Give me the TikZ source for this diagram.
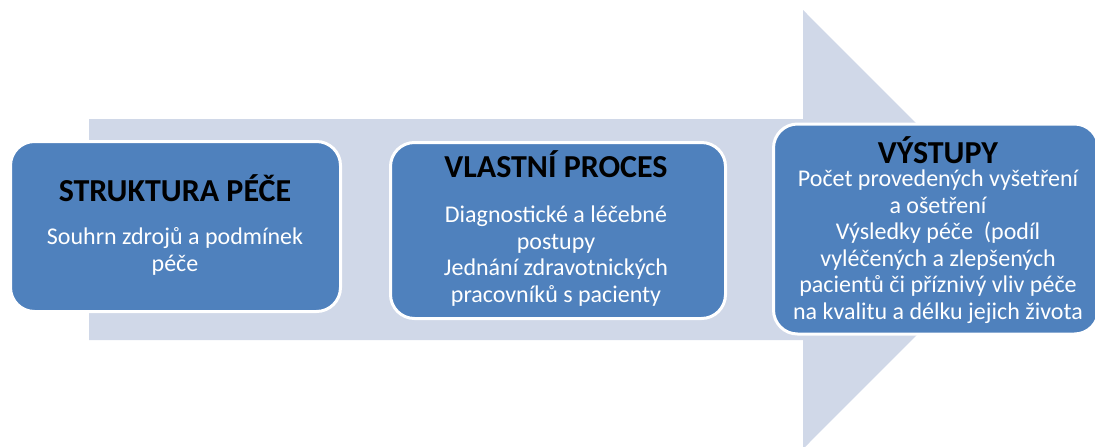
\documentclass[tikz,border=0pt]{standalone}
\usepackage{fontspec}
\setmainfont{Carlito}
\definecolor{arrowfill}{HTML}{D0D8E8}
\definecolor{boxfill}{HTML}{4F81BD}
\begin{document}
\begin{tikzpicture}[x=1pt,y=-1pt,
  stagebox/.style={draw=white,line width=3pt,fill=boxfill,rounded corners=24pt,
    inner sep=0pt,minimum width=#1},
  headtext/.style={anchor=base,text=black,font=\fontsize{32}{36}\selectfont\bfseries},
  bodytext/.style={anchor=base,text=white,align=center,font=\fontsize{24}{26.5}\selectfont}]
\useasboundingbox (0,0) rectangle (1095,447);
% background process arrow
\fill[arrowfill] (89,119) -- (803,119) -- (803,10) -- (1022,229.5) -- (803,449)
  -- (803,340) -- (89,340) -- cycle;
% stage boxes
\node[stagebox=330pt,minimum height=170pt] (s1) at (175.5,226.5) {};
\node[stagebox=335pt,minimum height=176pt] (s2) at (558,230.5) {};
\node[stagebox=325pt,minimum height=210pt] (s3) at (936,229) {};
% texts (body nodes are placed by the baseline of their last line)
\node[headtext] (h1) at (175,201) {STRUKTURA PÉČE};
\node[bodytext] (b1) at (175,271) {Souhrn zdrojů a podmínek\\péče};
\node[headtext] (h2) at (556,177) {VLASTNÍ PROCES};
\node[bodytext] (b2) at (556,302) {Diagnostické a léčebné\\postupy\\Jednání zdravotnických\\pracovníků s pacienty};
\node[headtext] (h3) at (938,163) {VÝSTUPY};
\node[bodytext] (b3) at (938,319) {Počet provedených vyšetření\\a ošetření\\Výsledky péče \ (podíl\\vyléčených a zlepšených\\pacientů či příznivý vliv péče\\na kvalitu a délku jejich života};
\end{tikzpicture}
\end{document}
